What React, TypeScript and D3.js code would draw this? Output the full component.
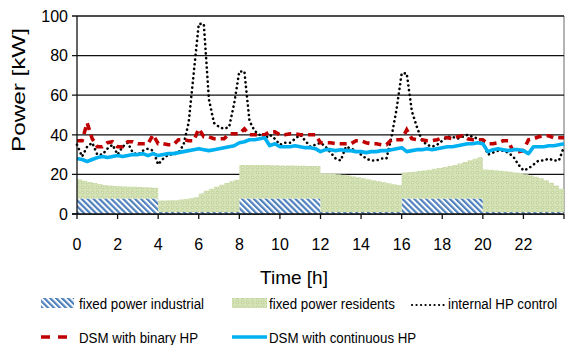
import React from "react";
import * as d3 from "d3";

// ---------- data ----------
const yTicks = [0, 20, 40, 60, 80, 100];
const xTickLabels = [0, 2, 4, 6, 8, 10, 12, 14, 16, 18, 20, 22];
const xTickMarks = [0, 2, 4, 6, 8, 10, 12, 14, 16, 18, 20, 22, 24];

// 15-minute intervals (96), kW
const industrial = [
  7.8, 7.8, 7.8, 7.8, 7.8, 7.8, 7.8, 7.8, 7.8, 7.8, 7.8, 7.8, 7.8, 7.8, 7.8, 7.8,
  1.0, 1.0, 1.0, 1.0, 1.0, 1.0, 1.0, 1.0, 1.0, 1.0, 1.0, 1.0, 1.0, 1.0, 1.0, 1.0,
  7.8, 7.8, 7.8, 7.8, 7.8, 7.8, 7.8, 7.8, 7.8, 7.8, 7.8, 7.8, 7.8, 7.8, 7.8, 7.8,
  1.0, 1.0, 1.0, 1.0, 1.0, 1.0, 1.0, 1.0, 1.0, 1.0, 1.0, 1.0, 1.0, 1.0, 1.0, 1.0,
  7.8, 7.8, 7.8, 7.8, 7.8, 7.8, 7.8, 7.8, 7.8, 7.8, 7.8, 7.8, 7.8, 7.8, 7.8, 7.8,
  1.0, 1.0, 1.0, 1.0, 1.0, 1.0, 1.0, 1.0, 1.0, 1.0, 1.0, 1.0, 1.0, 1.0, 1.0, 1.0,
];
const residents = [
  9.7, 9.0, 8.4, 7.8, 7.3, 6.9, 6.6, 6.4, 6.2, 6.1, 6.0, 5.9, 5.8, 5.7, 5.6, 5.5,
  5.8, 5.8, 5.9, 6.0, 6.3, 6.6, 7.0, 7.5, 9.3, 10.7, 11.8, 12.8, 13.8, 14.7, 15.5, 16.3,
  17.0, 17.0, 17.0, 16.9, 16.9, 16.9, 16.8, 16.8, 16.7, 16.7, 16.7, 16.6, 16.6, 16.5, 16.5, 16.4,
  19.4, 19.4, 19.3, 19.1, 18.8, 18.4, 18.0, 17.5, 17.0, 16.5, 16.0, 15.5, 15.0, 14.5, 14.0, 13.6,
  13.2, 13.4, 13.6, 13.9, 14.2, 14.6, 15.0, 15.4, 15.9, 16.4, 17.0, 17.7, 18.5, 19.3, 20.1, 20.9,
  21.5, 21.3, 21.1, 20.9, 20.6, 20.3, 20.0, 19.6, 19.1, 18.5, 17.8, 17.0, 16.0, 14.8, 13.4, 11.8,
];

// 97 points (0..24h every 15 min)
const internalHP = [
  35, 29, 34, 36, 30, 30, 33, 35, 30, 34, 36, 31, 30, 32, 33, 32,
  25, 28, 30, 30, 31, 35, 46, 71, 96, 96, 58, 46, 44, 43, 44, 56,
  72, 72, 47, 42, 40, 38, 40, 38, 35, 36, 36, 38, 40, 37, 34, 35,
  36, 34, 31, 28, 27, 34, 33, 32, 30, 28, 27, 27, 28, 28, 39, 53,
  71, 71, 52, 44, 37, 35, 34, 35, 37, 39, 39, 38, 39, 40, 39, 38,
  37, 30, 31, 32, 32, 31, 29, 25, 22, 23, 25, 27, 27, 28, 27, 27,
  34,
];
const dsmBinary = [
  37, 37, 46, 38, 34, 34, 36, 36.5, 34, 34, 36.5, 36.5, 35.5, 35.5, 35.5, 40,
  35.5, 35.5, 35, 35, 37.5, 37.5, 37, 37, 43, 39, 39, 38, 38, 38, 40.5, 40.5,
  40.5, 43, 40, 40, 40, 40, 41.5, 41.5, 40, 40, 40.5, 40.5, 40, 40, 40, 40,
  36, 36, 36, 35.5, 35.5, 35.5, 35.5, 37, 37, 36, 35.5, 35.5, 35, 35, 37.5, 37.5,
  37.5, 42.5, 38, 37.5, 37.5, 37, 37, 37.5, 38.5, 38.5, 38, 39, 39.5, 38, 37.5, 37.5,
  37.5, 35.5, 35.5, 36, 37, 37, 31.5, 31.5, 32, 37.5, 38, 39, 39.5, 39.5, 38.5, 38.5,
  38.5,
];
const dsmContinuous = [
  28, 27.5, 26.5, 27.5, 28.5, 29, 28.5, 29, 29.5, 29, 29.5, 30, 30, 30.5, 29.5, 30.5,
  29.5, 30, 30.5, 30.5, 31, 31.5, 32, 32.5, 33, 32.5, 32, 32.5, 33, 33.5, 34, 34.5,
  36, 36.5, 37.5, 37.5, 38, 38.5, 34.5, 35.5, 34, 34, 34, 34.5, 34, 33.5, 33.5, 33,
  31.5, 32.5, 32.5, 32, 32.5, 32, 32, 31.5, 31.5, 31, 31.5, 31.5, 32, 32, 32.5, 33,
  33.5, 31.5, 32, 32.5, 32.5, 33, 32.5, 33, 33.5, 34, 34, 34.5, 35, 35.5, 35.5, 36,
  35.5, 31.5, 32.5, 33, 32.5, 32, 32.5, 32.5, 32, 30.5, 34, 34, 34, 34.5, 34.5, 35,
  35.5,
];

const legendRow1 = ["fixed power industrial", "fixed power residents", "internal HP control"];
const legendRow2 = ["DSM with binary HP", "DSM with continuous HP"];

// ---------- layout ----------
const W = 569;
const H = 345;
const PL = 77, PR = 564, PT = 16, PB = 214;
const FONT = "'Liberation Sans', Arial, sans-serif";

function LegendText({ x, y, children }: { x: number; y: number; children: React.ReactNode }) {
  return (
    <text transform={`translate(${x},${y}) scale(0.86,1)`} fontSize={15.5} fill="#000">
      {children}
    </text>
  );
}

export default function App() {
  const x = d3.scaleLinear().domain([0, 24]).range([PL, PR]);
  const y = d3.scaleLinear().domain([0, 100]).range([PB, PT]);

  const times = d3.range(97).map((i) => i / 4);

  const rows = times.map((t, i) => {
    const k = Math.min(i, 95);
    return { t, industrial: industrial[k], residents: residents[k] };
  });
  const stack = d3.stack<any>().keys(["industrial", "residents"]);
  const series = stack(rows);
  const area = d3
    .area<any>()
    .curve(d3.curveStepAfter)
    .x((d) => x(d.data.t))
    .y0((d) => y(d[0]))
    .y1((d) => y(d[1]));

  const line = d3
    .line<number>()
    .x((_, i) => x(times[i]))
    .y((d) => y(d));

  return (
    <svg
      width={W}
      height={H}
      style={{ position: "absolute", left: 0, top: 0, background: "#fff" }}
      fontFamily={FONT}
    >
      <defs>
        <pattern id="hatch" patternUnits="userSpaceOnUse" width="4.2" height="4.2" patternTransform="rotate(-45)">
          <rect width="4.2" height="4.2" fill="#ffffff" />
          <rect width="2.2" height="4.2" fill="#4f81bd" />
        </pattern>
        <pattern id="dots" patternUnits="userSpaceOnUse" width="5" height="5">
          <rect width="5" height="5" fill="#d4e2b6" />
          <circle cx="2.5" cy="2.5" r="1.3" fill="#e6eed6" stroke="#b2c987" strokeWidth="0.8" />
        </pattern>
      </defs>

      <line x1={PR} x2={PR} y1={PT} y2={PB} stroke="#8c8c8c" strokeWidth={1.3} />

      {yTicks.map((v) => (
        <line key={"g" + v} x1={PL - 5} x2={PR} y1={y(v)} y2={y(v)} stroke="#111" strokeWidth={1.3} />
      ))}

      <path d={area(series[0] as any) || ""} fill="url(#hatch)" />
      <path d={area(series[1] as any) || ""} fill="url(#dots)" />

      <path
        d={line(internalHP) || ""}
        fill="none"
        stroke="#000"
        strokeWidth={2.6}
        strokeDasharray="0.1 4.6"
        strokeLinecap="round"
      />
      <path d={line(dsmBinary) || ""} fill="none" stroke="#c00000" strokeWidth={3.6} strokeDasharray="7 5" />
      <path d={line(dsmContinuous) || ""} fill="none" stroke="#00b0f0" strokeWidth={3.6} strokeLinejoin="round" />

      <line x1={PL} x2={PL} y1={PT} y2={PB} stroke="#111" strokeWidth={1.3} />
      <line x1={PL - 5} x2={PR} y1={PB} y2={PB} stroke="#111" strokeWidth={1.3} />
      {xTickMarks.map((v) => (
        <line key={"xt" + v} x1={x(v)} x2={x(v)} y1={PB} y2={PB + 5} stroke="#111" strokeWidth={1.3} />
      ))}

      {yTicks.map((v) => (
        <text key={"yl" + v} x={PL - 9} y={y(v) + 5.8} textAnchor="end" fontSize={16} fill="#000">
          {v}
        </text>
      ))}
      {xTickLabels.map((v) => (
        <text key={"xl" + v} x={x(v)} y={250} textAnchor="middle" fontSize={16} fill="#000">
          {v}
        </text>
      ))}

      <text
        transform="translate(25,90) rotate(-90)"
        textAnchor="middle"
        fontSize={19}
        textLength={124}
        lengthAdjust="spacingAndGlyphs"
        fill="#000"
      >
        Power [kW]
      </text>
      <text x={294} y={284} textAnchor="middle" fontSize={19} fill="#000">
        Time [h]
      </text>

      <rect x={41} y={298} width={33} height={10} fill="url(#hatch)" />
      <LegendText x={79} y={309}>{legendRow1[0]}</LegendText>
      <rect x={232} y={298} width={35} height={10} fill="url(#dots)" />
      <LegendText x={269} y={309}>{legendRow1[1]}</LegendText>
      <line
        x1={412}
        x2={444}
        y1={305}
        y2={305}
        stroke="#000"
        strokeWidth={2.2}
        strokeDasharray="0.1 4.4"
        strokeLinecap="round"
      />
      <LegendText x={448} y={309}>{legendRow1[2]}</LegendText>

      <line x1={41} x2={68} y1={337} y2={337} stroke="#c00000" strokeWidth={3.5} strokeDasharray="9 8" />
      <LegendText x={79} y={343}>{legendRow2[0]}</LegendText>
      <line x1={232} x2={267} y1={337} y2={337} stroke="#00b0f0" strokeWidth={3.5} />
      <LegendText x={269} y={343}>{legendRow2[1]}</LegendText>
    </svg>
  );
}
